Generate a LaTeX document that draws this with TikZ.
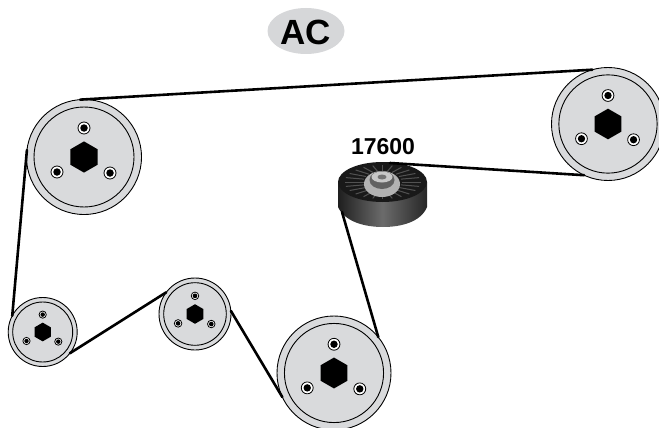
\documentclass[tikz,border=0pt]{standalone}
\usepackage{fontspec}
\setmainfont{Liberation Sans}
\usetikzlibrary{shapes.geometric,calc}
\definecolor{pulleygrey}{HTML}{D9DADC}
\definecolor{badge}{HTML}{D6D7D9}
\tikzset{
  disc/.style={circle,draw=black,fill=pulleygrey,line width=0.9pt,inner sep=0,outer sep=0,minimum size=#1},
  groove/.style={circle,draw=black,line width=0.9pt,inner sep=0,outer sep=0,minimum size=#1},
  hexnut/.style={regular polygon,regular polygon sides=6,shape border rotate=30,fill=black,inner sep=0,outer sep=0,minimum size=#1},
  belt/.style={line width=2.6pt,black,line cap=round},
  boltw/.style={circle,draw=black,fill=white,line width=0.8pt,inner sep=0,minimum size=#1},
  boltb/.style={circle,fill=black,inner sep=0,minimum size=#1},
}
% name, x, y, outer radius
\newcommand{\mypulley}[4]{%
  \pgfmathsetmacro{\ss}{#4/57.5}
  \node[disc={2*#4pt}] (#1) at (#2,#3) {};
  \node[groove={2*\ss*50pt}] (#1in) at (#2,#3) {};
  \node[hexnut={2*\ss*15.6pt}] (#1hex) at (#2,#3) {};
  \foreach \bn/\bx/\by in {a/0/-29,b/-27/15,c/26/16}{
    \node[boltw={\ss*12pt}] (#1\bn) at ($(#2,#3)+(\ss*\bx,\ss*\by)$) {};
    \node[boltb={\ss*7.5pt}] (#1\bn d) at (#1\bn) {};
  }
}
\begin{document}
\begin{tikzpicture}[x=1pt,y=-1pt]
\useasboundingbox (0,0) rectangle (659,428);
\clip (0,0) rectangle (659,428);
% badge
\node[ellipse,fill=badge,minimum width=77pt,minimum height=46pt,inner sep=0] (badge) at (306,31) {};
\node[font=\bfseries\fontsize{35}{35}\selectfont,text=black] (ac) at (306,32) {AC};
% pulleys
\mypulley{pa}{84}{157}{57.5}
\mypulley{pb}{608}{124}{56.5}
\mypulley{pc}{334}{373}{57}
\mypulley{pd}{42.7}{332}{34.5}
\mypulley{pe}{195}{314}{36}
% idler roller
\shade[left color=black!88,right color=black!85,middle color=black!58] (338,182) -- (338,207) .. controls (345,222) and (365,227) .. (383,227) .. controls (401,227) and (421,222) .. (427,207) -- (427,182) -- cycle;
\node[ellipse,fill=black!90,minimum width=89pt,minimum height=40pt,inner sep=0] (idler) at (382.5,182) {};
\foreach \a in {0,15,...,345}{
  \draw[black!68,line width=1pt] ($(idler.center)+({19*cos(\a)},{11*sin(\a)})$) -- ($(idler.center)+({38*cos(\a)},{17*sin(\a)})$);
}
\node[ellipse,fill=black!30,minimum width=36pt,minimum height=26pt,inner sep=0] (hubbase) at (382,184) {};
\node[ellipse,fill=black!62,minimum width=25pt,minimum height=18pt,inner sep=0] (hubmid) at (382,180) {};
\node[ellipse,fill=black!22,minimum width=21pt,minimum height=11pt,inner sep=0] (hubtop) at (382,177) {};
\node[ellipse,fill=black!55,minimum width=9pt,minimum height=5pt,inner sep=0] (hubbore) at (382,177) {};
\coordinate (idlertop) at (390,163);
\coordinate (idlerleft) at (342,212);
\node[font=\bfseries\fontsize{23}{23}\selectfont,text=black] (partno) at (383,147) {17600};
% belts
\draw[belt] (pa.94) -- (pb.106);
\draw[belt] (idlertop) -- (pb.245);
\draw[belt] (idlerleft) -- (pc.39);
\draw[belt] (pc.205) -- (pe.5);
\draw[belt] (pe.143) -- (pd.-38);
\draw[belt] (pd.152) -- (pa.173);
\end{tikzpicture}
\end{document}
